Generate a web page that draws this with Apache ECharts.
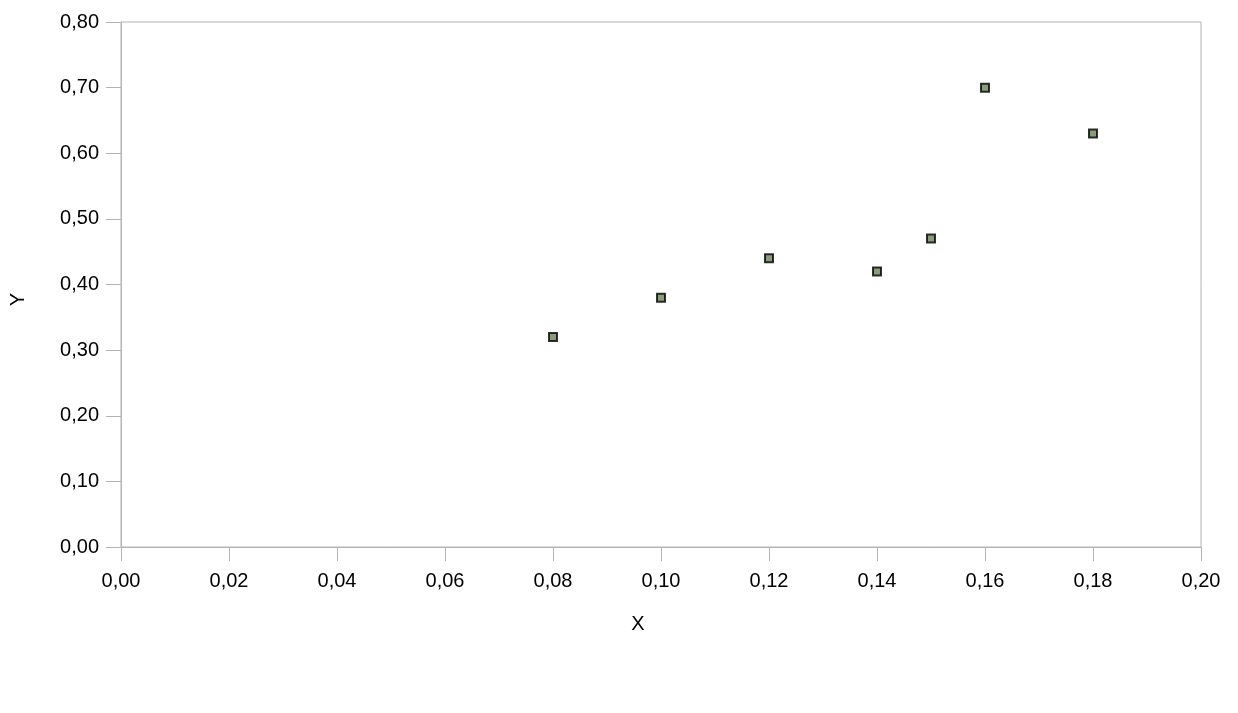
<!DOCTYPE html>
<html>
<head>
<meta charset="utf-8">
<script src="https://cdn.jsdelivr.net/npm/echarts@6/dist/echarts.min.js"></script>
<style>
html,body{margin:0;padding:0;background:#fff;}
#chart{width:1238px;height:713px;}
</style>
</head>
<body>
<div id="chart"></div>
<script>
const xValues = [0.08, 0.10, 0.12, 0.14, 0.15, 0.16, 0.18];
const yValues = [0.32, 0.38, 0.44, 0.42, 0.47, 0.70, 0.63];
const xAxisName = 'X';
const yAxisName = 'Y';

const points = xValues.map((x, i) => [x, yValues[i]]);
const fmt = v => v.toFixed(2).replace('.', ',');
const axisColor = '#b3b3b3';
const font = 'Liberation Sans, Arial, sans-serif';

const chart = echarts.init(document.getElementById('chart'), null, {renderer: 'canvas'});
chart.setOption({
  backgroundColor: '#ffffff',
  animation: false,
  grid: {left: 120, right: 37, top: 22, bottom: 166, show: true, borderColor: axisColor, borderWidth: 1, backgroundColor: 'transparent'},
  xAxis: {
    type: 'value', min: 0, max: 0.2, interval: 0.02,
    name: xAxisName, nameLocation: 'middle', nameGap: 67,
    nameTextStyle: {fontFamily: font, fontSize: 20, color: '#000', padding: [0, 46, 0, 0]},
    axisLine: {show: true, lineStyle: {color: axisColor, width: 1}},
    axisTick: {show: true, inside: false, length: 14, lineStyle: {color: axisColor}},
    axisLabel: {formatter: fmt, fontFamily: font, fontSize: 20, color: '#000', margin: 24},
    splitLine: {show: false}
  },
  yAxis: {
    type: 'value', min: 0, max: 0.8, interval: 0.1,
    name: yAxisName, nameLocation: 'middle', nameGap: 93,
    nameTextStyle: {fontFamily: font, fontSize: 20, color: '#000', padding: [0, 30, 0, 0]},
    axisLine: {show: true, lineStyle: {color: axisColor, width: 1}},
    axisTick: {show: true, inside: false, length: 15, lineStyle: {color: axisColor}},
    axisLabel: {formatter: fmt, fontFamily: font, fontSize: 20, color: '#000', margin: 22},
    splitLine: {show: false}
  },
  series: [{
    type: 'scatter',
    data: points,
    symbol: 'rect',
    symbolSize: 8,
    itemStyle: {color: '#6a8656', borderColor: '#000', borderWidth: 2}
  }]
});
</script>
</body>
</html>
